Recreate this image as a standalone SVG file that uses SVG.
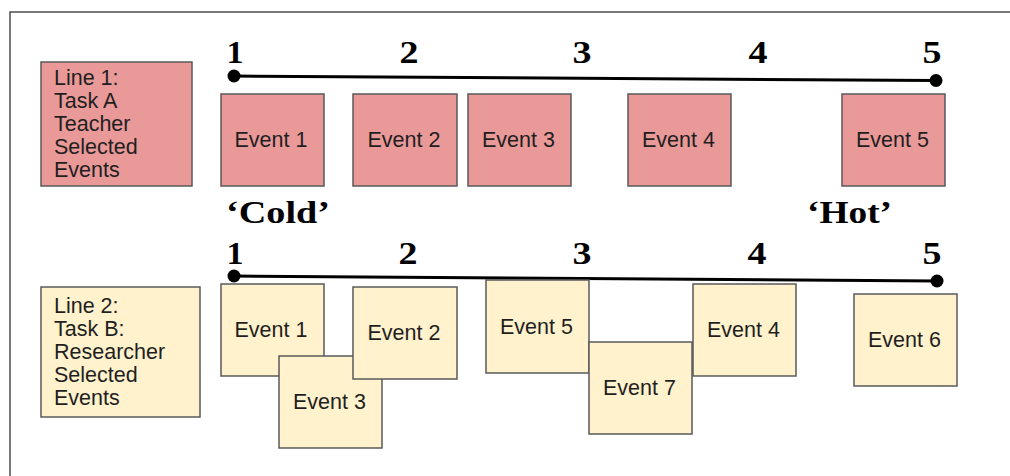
<svg xmlns="http://www.w3.org/2000/svg" width="1010" height="476" viewBox="0 0 1010 476">
  <style>
    .frame { fill: none; stroke: #4d4d4d; stroke-width: 1.5; }
    .pink { fill: #ea9999; stroke: #595959; stroke-width: 1.5; }
    .cream { fill: #fff2cc; stroke: #595959; stroke-width: 1.5; }
    .lbl { font-family: "Liberation Sans", Arial, sans-serif; font-size: 21.5px; fill: #1f1f1f; }
    .ev { font-family: "Liberation Sans", Arial, sans-serif; font-size: 21.5px; fill: #1f1f1f; text-anchor: middle; }
    .num { font-family: "Liberation Serif", "Times New Roman", serif; font-size: 31px; font-weight: bold; fill: #000000; text-anchor: middle; }
    .big { font-family: "Liberation Serif", "Times New Roman", serif; font-size: 31px; font-weight: bold; fill: #000000; }
    .axis { stroke: #000000; stroke-width: 3; fill: none; }
    .dot { fill: #000000; }
  </style>

  <rect class="frame" x="10" y="12" width="1010" height="480"/>

  <g id="connectors">
    <line class="axis" x1="234" y1="76" x2="936" y2="80.5"/>
    <circle class="dot" cx="234" cy="76" r="6.5"/>
    <circle class="dot" cx="936" cy="80.5" r="6.5"/>
    <line class="axis" x1="234" y1="276" x2="937" y2="281"/>
    <circle class="dot" cx="234" cy="276" r="6.5"/>
    <circle class="dot" cx="937" cy="281" r="6.5"/>
  </g>

  <g id="scale-top">
    <text class="num" x="235" y="63" textLength="17" lengthAdjust="spacingAndGlyphs">1</text>
    <text class="num" x="409" y="63" textLength="19" lengthAdjust="spacingAndGlyphs">2</text>
    <text class="num" x="582" y="63" textLength="19" lengthAdjust="spacingAndGlyphs">3</text>
    <text class="num" x="758" y="63" textLength="19" lengthAdjust="spacingAndGlyphs">4</text>
    <text class="num" x="932" y="63" textLength="19" lengthAdjust="spacingAndGlyphs">5</text>
  </g>

  <g id="scale-bottom">
    <text class="num" x="235" y="264" textLength="17" lengthAdjust="spacingAndGlyphs">1</text>
    <text class="num" x="408" y="264" textLength="19" lengthAdjust="spacingAndGlyphs">2</text>
    <text class="num" x="582" y="264" textLength="19" lengthAdjust="spacingAndGlyphs">3</text>
    <text class="num" x="757" y="264" textLength="19" lengthAdjust="spacingAndGlyphs">4</text>
    <text class="num" x="932" y="264" textLength="19" lengthAdjust="spacingAndGlyphs">5</text>
  </g>

  <g id="cold-label">
    <text class="big" x="226" y="223" textLength="104" lengthAdjust="spacingAndGlyphs">‘Cold’</text>
  </g>
  <g id="hot-label">
    <text class="big" x="807" y="223" textLength="85" lengthAdjust="spacingAndGlyphs">‘Hot’</text>
  </g>

  <g id="line1-label">
    <rect class="pink" x="41" y="62" width="151" height="124"/>
    <text class="lbl" x="54" y="85">Line 1:</text>
    <text class="lbl" x="54" y="108">Task A</text>
    <text class="lbl" x="54" y="131">Teacher</text>
    <text class="lbl" x="54" y="154">Selected</text>
    <text class="lbl" x="54" y="177">Events</text>
  </g>

  <g id="a-event1">
    <rect class="pink" x="221" y="94" width="103" height="92"/>
    <text class="ev" x="271" y="147">Event 1</text>
  </g>
  <g id="a-event2">
    <rect class="pink" x="353" y="94" width="104" height="92"/>
    <text class="ev" x="404" y="147">Event 2</text>
  </g>
  <g id="a-event3">
    <rect class="pink" x="468" y="94" width="103" height="92"/>
    <text class="ev" x="518.5" y="147">Event 3</text>
  </g>
  <g id="a-event4">
    <rect class="pink" x="628" y="94" width="103" height="92"/>
    <text class="ev" x="678.5" y="147">Event 4</text>
  </g>
  <g id="a-event5">
    <rect class="pink" x="842" y="94" width="103" height="92"/>
    <text class="ev" x="892.5" y="147">Event 5</text>
  </g>

  <g id="line2-label">
    <rect class="cream" x="41" y="287" width="159" height="130"/>
    <text class="lbl" x="54" y="313">Line 2:</text>
    <text class="lbl" x="54" y="336">Task B:</text>
    <text class="lbl" x="54" y="359">Researcher</text>
    <text class="lbl" x="54" y="382">Selected</text>
    <text class="lbl" x="54" y="405">Events</text>
  </g>

  <g id="b-event1">
    <rect class="cream" x="221" y="284" width="103" height="92"/>
    <text class="ev" x="271" y="337">Event 1</text>
  </g>
  <g id="b-event3">
    <rect class="cream" x="279" y="356" width="103" height="92"/>
    <text class="ev" x="329.5" y="409">Event 3</text>
  </g>
  <g id="b-event2">
    <rect class="cream" x="353" y="287" width="104" height="92"/>
    <text class="ev" x="404" y="340">Event 2</text>
  </g>
  <g id="b-event5">
    <rect class="cream" x="486" y="280" width="103" height="93"/>
    <text class="ev" x="536.5" y="333.5">Event 5</text>
  </g>
  <g id="b-event7">
    <rect class="cream" x="589" y="342" width="103" height="92"/>
    <text class="ev" x="639.5" y="395">Event 7</text>
  </g>
  <g id="b-event4">
    <rect class="cream" x="693" y="284" width="103" height="92"/>
    <text class="ev" x="743.5" y="337">Event 4</text>
  </g>
  <g id="b-event6">
    <rect class="cream" x="854" y="294" width="103" height="92"/>
    <text class="ev" x="904.5" y="347">Event 6</text>
  </g>
</svg>
